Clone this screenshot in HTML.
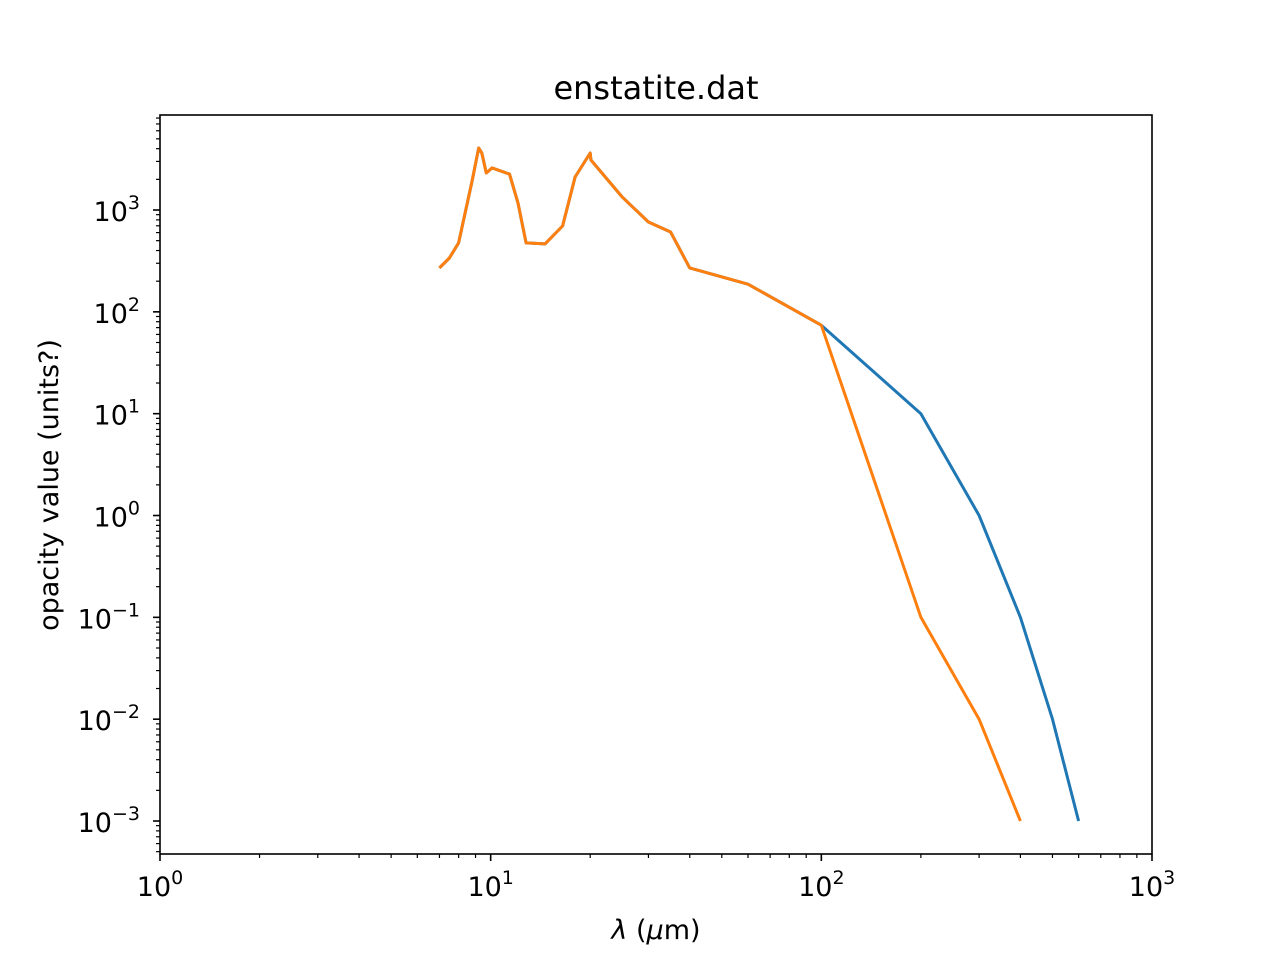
<!DOCTYPE html>
<html><head><meta charset="utf-8"><style>
html,body{margin:0;padding:0;background:#fff;}
svg text{font-family:"DejaVu Sans","Liberation Sans",sans-serif;fill:#000;}
</style></head><body>
<svg id="chart" width="1280" height="960" viewBox="0 0 1280 960" xmlns="http://www.w3.org/2000/svg">
<rect width="1280" height="960" fill="#fff"/>
<text x="656" y="99" font-size="32" text-anchor="middle">enstatite.dat</text>
<text x="656" y="939" font-size="27" text-anchor="middle"><tspan font-style="italic">λ</tspan> (<tspan font-style="italic">μ</tspan>m)</text>
<text transform="translate(58,485) rotate(-90)" font-size="27" text-anchor="middle">opacity value (units?)</text>
<g id="ticks"></g>
<g id="series"></g>
<rect x="160" y="115" width="992" height="739" fill="none" stroke="#000" stroke-width="1.6"/>
</svg>
<script>
const blueX = [7,7.5,8,8.8,9.2,9.4,9.7,10.1,11.4,12.1,12.8,14.6,16.5,18,20,20.1,25,30,35,40,60,100,200,300,400,500,600];
const blueY = [270,338,475,1970,4060,3630,2310,2590,2250,1170,475,465,697,2110,3630,3100,1340,763,608,270,187,74,10,1,0.1,0.01,0.001];
const orangeX = [7,7.5,8,8.8,9.2,9.4,9.7,10.1,11.4,12.1,12.8,14.6,16.5,18,20,20.1,25,30,35,40,60,100,200,300,400];
const orangeY = [270,338,475,1970,4060,3630,2310,2590,2250,1170,475,465,697,2110,3630,3100,1340,763,608,270,187,74,0.1,0.01,0.001];
const xTickVals = [0,1,2,3];
const yTickVals = [-3,-2,-1,0,1,2,3];

const NS="http://www.w3.org/2000/svg";
const X0=160,X1=1152,Y0=854,Y1=115;
const xMin=0,xMax=3,yMin=-3.324,yMax=3.933;
function xs(v){return X0+(Math.log10(v)-xMin)/(xMax-xMin)*(X1-X0);}
function ys(v){return Y0-(Math.log10(v)-yMin)/(yMax-yMin)*(Y0-Y1);}
function mk(t,a,p){const e=document.createElementNS(NS,t);for(const k in a)e.setAttribute(k,a[k]);p.appendChild(e);return e;}
const tg=document.getElementById('ticks');
for(const d of xTickVals){
  const x=xs(Math.pow(10,d));
  const t=mk('line',{x1:x,x2:x,y1:854,y2:861,stroke:'#000','stroke-width':1.6},tg);
  
  
  const l=mk('text',{x:x,y:896,'font-size':27,'text-anchor':'middle'},tg);
  
  
  l.innerHTML='10<tspan dy="-12" font-size="19">'+d+'</tspan>';
  if(d<3)for(let m=2;m<10;m++){
    const xm=xs(m*Math.pow(10,d));
    const mt=mk('line',{x1:xm,x2:xm,y1:854,y2:858,stroke:'#000','stroke-width':1.2},tg);
    
    
  }
}
for(let d=-4;d<=3;d++){
  if(yTickVals.includes(d)){
    const y=ys(Math.pow(10,d));
    const t=mk('line',{x1:153,x2:160,y1:y,y2:y,stroke:'#000','stroke-width':1.6},tg);
    
    
    const l=mk('text',{x:140,y:y+11,'font-size':27,'text-anchor':'end'},tg);
    
    
    const s=d<0?'\u2212'+(-d):''+d;
    l.innerHTML='10<tspan dy="-12" font-size="19">'+s+'</tspan>';
  }
  for(let m=2;m<10;m++){
    const v=m*Math.pow(10,d);const y=ys(v);
    if(y<Y1||y>Y0)continue;
    const mt=mk('line',{x1:156,x2:160,y1:y,y2:y,stroke:'#000','stroke-width':1.2},tg);
    
    
  }
}
const sg=document.getElementById('series');
function line(xa,ya,c,name){
  const pts=xa.map((v,i)=>xs(v).toFixed(1)+','+ys(ya[i]).toFixed(1)).join(' ');
  const p=mk('polyline',{points:pts,fill:'none',stroke:c,'stroke-width':3,'stroke-linejoin':'round'},sg);
  
  
}
line(blueX,blueY,'#1f77b4','series-blue');
line(orangeX,orangeY,'#ff7f0e','series-orange');
</script>
</body></html>
